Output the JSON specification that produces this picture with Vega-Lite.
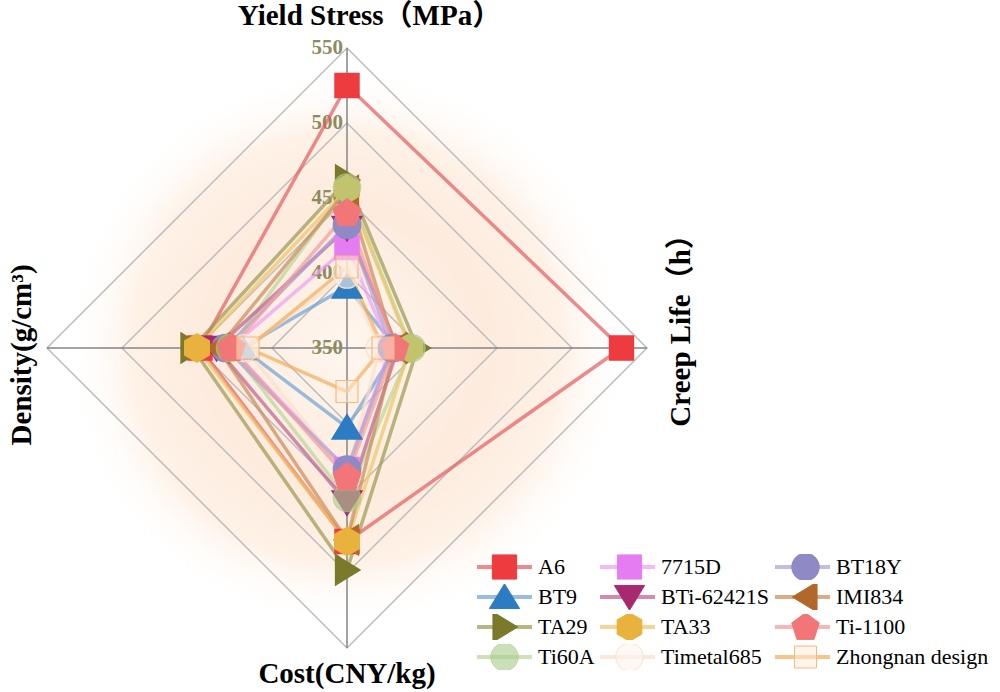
{
  "$schema": "https://vega.github.io/schema/vega-lite/v6.json",
  "width": 1000,
  "height": 692,
  "autosize": "none",
  "padding": 0,
  "background": "white",
  "config": {
    "view": {"stroke": null},
    "legend": {"labelFont": "Liberation Serif", "labelFontSize": 22, "labelColor": "#000000", "labelFontWeight": "normal", "labelLimit": 300}
  },
  "datasets": {
    "alloys": [
      {"alloy": "A6", "axis": "Yield Stress", "value": 525}, {"alloy": "A6", "axis": "Creep Life", "value": 533}, {"alloy": "A6", "axis": "Cost", "value": 479}, {"alloy": "A6", "axis": "Density", "value": 448},
      {"alloy": "BT9", "axis": "Yield Stress", "value": 391}, {"alloy": "BT9", "axis": "Creep Life", "value": 383}, {"alloy": "BT9", "axis": "Cost", "value": 403}, {"alloy": "BT9", "axis": "Density", "value": 420},
      {"alloy": "TA29", "axis": "Yield Stress", "value": 462}, {"alloy": "TA29", "axis": "Creep Life", "value": 397}, {"alloy": "TA29", "axis": "Cost", "value": 498}, {"alloy": "TA29", "axis": "Density", "value": 453},
      {"alloy": "Ti60A", "axis": "Yield Stress", "value": 457}, {"alloy": "Ti60A", "axis": "Creep Life", "value": 393}, {"alloy": "Ti60A", "axis": "Cost", "value": 450}, {"alloy": "Ti60A", "axis": "Density", "value": 428},
      {"alloy": "7715D", "axis": "Yield Stress", "value": 417}, {"alloy": "7715D", "axis": "Creep Life", "value": 379}, {"alloy": "7715D", "axis": "Cost", "value": 431}, {"alloy": "7715D", "axis": "Density", "value": 428},
      {"alloy": "BTi-62421S", "axis": "Yield Stress", "value": 430}, {"alloy": "BTi-62421S", "axis": "Creep Life", "value": 384}, {"alloy": "BTi-62421S", "axis": "Cost", "value": 453}, {"alloy": "BTi-62421S", "axis": "Density", "value": 437},
      {"alloy": "TA33", "axis": "Yield Stress", "value": 456}, {"alloy": "TA33", "axis": "Creep Life", "value": 392}, {"alloy": "TA33", "axis": "Cost", "value": 479}, {"alloy": "TA33", "axis": "Density", "value": 450},
      {"alloy": "Timetal685", "axis": "Yield Stress", "value": 399}, {"alloy": "Timetal685", "axis": "Creep Life", "value": 372}, {"alloy": "Timetal685", "axis": "Cost", "value": 434}, {"alloy": "Timetal685", "axis": "Density", "value": 418},
      {"alloy": "BT18Y", "axis": "Yield Stress", "value": 432}, {"alloy": "BT18Y", "axis": "Creep Life", "value": 380}, {"alloy": "BT18Y", "axis": "Cost", "value": 431}, {"alloy": "BT18Y", "axis": "Density", "value": 431},
      {"alloy": "IMI834", "axis": "Yield Stress", "value": 455}, {"alloy": "IMI834", "axis": "Creep Life", "value": 382}, {"alloy": "IMI834", "axis": "Cost", "value": 478}, {"alloy": "IMI834", "axis": "Density", "value": 436},
      {"alloy": "Ti-1100", "axis": "Yield Stress", "value": 440}, {"alloy": "Ti-1100", "axis": "Creep Life", "value": 382}, {"alloy": "Ti-1100", "axis": "Cost", "value": 436}, {"alloy": "Ti-1100", "axis": "Density", "value": 427},
      {"alloy": "Zhongnan design", "axis": "Yield Stress", "value": 404}, {"alloy": "Zhongnan design", "axis": "Creep Life", "value": 374}, {"alloy": "Zhongnan design", "axis": "Cost", "value": 379}, {"alloy": "Zhongnan design", "axis": "Density", "value": 416}
    ],
    "grid": [
      {"ring": 400, "axis": "Yield Stress"}, {"ring": 400, "axis": "Creep Life"}, {"ring": 400, "axis": "Cost"}, {"ring": 400, "axis": "Density"},
      {"ring": 450, "axis": "Yield Stress"}, {"ring": 450, "axis": "Creep Life"}, {"ring": 450, "axis": "Cost"}, {"ring": 450, "axis": "Density"},
      {"ring": 500, "axis": "Yield Stress"}, {"ring": 500, "axis": "Creep Life"}, {"ring": 500, "axis": "Cost"}, {"ring": 500, "axis": "Density"},
      {"ring": 550, "axis": "Yield Stress"}, {"ring": 550, "axis": "Creep Life"}, {"ring": 550, "axis": "Cost"}, {"ring": 550, "axis": "Density"}
    ],
    "axes": [
      {"axis": "Yield Stress", "title": "Yield Stress（MPa）"},
      {"axis": "Creep Life", "title": "Creep Life（h）"},
      {"axis": "Cost", "title": "Cost(CNY/kg)"},
      {"axis": "Density", "title": "Density(g/cm³)"}
    ],
    "ticks": [{"v": 350}, {"v": 400}, {"v": 450}, {"v": 500}, {"v": 550}]
  },
  "layer": [
    {
      "data": {"values": [{}]},
      "mark": {
        "type": "rect",
        "fill": {
          "gradient": "radial",
          "x1": 0.5, "y1": 0.5, "r1": 0,
          "x2": 0.5, "y2": 0.5, "r2": 0.5,
          "stops": [
            {"offset": 0, "color": "#FEF6EF"},
            {"offset": 0.4, "color": "#FDEBDD"},
            {"offset": 0.62, "color": "#FEF1E6"},
            {"offset": 0.82, "color": "rgba(255,255,255,0)"},
            {"offset": 1, "color": "rgba(255,255,255,0)"}
          ]
        }
      },
      "encoding": {
        "x": {"datum": -1.15, "type": "quantitative", "scale": {"domain": [-1.15667, 2.17667]}, "axis": null},
        "x2": {"datum": 1.15},
        "y": {"datum": -1.15, "type": "quantitative", "scale": {"domain": [-1.14667, 1.16]}, "axis": null},
        "y2": {"datum": 1.15}
      }
    },
    {
      "data": {"name": "grid"},
      "transform": [
        {"calculate": "indexof(['Yield Stress','Creep Life','Cost','Density'], datum.axis)", "as": "idx"},
        {"calculate": "(datum.ring-350)/200", "as": "r"},
        {"calculate": "datum.idx==1 ? datum.r : datum.idx==3 ? -datum.r : 0", "as": "px"},
        {"calculate": "datum.idx==0 ? datum.r : datum.idx==2 ? -datum.r : 0", "as": "py"}
      ],
      "mark": {"type": "line", "interpolate": "linear-closed", "stroke": "#BDBDBD", "strokeWidth": 1.5},
      "encoding": {
        "x": {"field": "px", "type": "quantitative", "scale": {"domain": [-1.15667, 2.17667]}, "axis": null},
        "y": {"field": "py", "type": "quantitative", "scale": {"domain": [-1.14667, 1.16]}, "axis": null},
        "detail": {"field": "ring", "type": "nominal"},
        "order": {"field": "idx", "type": "quantitative"}
      }
    },
    {
      "data": {"name": "axes"},
      "transform": [
        {"calculate": "indexof(['Yield Stress','Creep Life','Cost','Density'], datum.axis)", "as": "idx"},
        {"calculate": "datum.idx==1 ? 1 : datum.idx==3 ? -1 : 0", "as": "ex"},
        {"calculate": "datum.idx==0 ? 1 : datum.idx==2 ? -1 : 0", "as": "ey"}
      ],
      "mark": {"type": "rule", "stroke": "#858585", "strokeWidth": 1.5},
      "encoding": {
        "x": {"field": "ex", "type": "quantitative", "scale": {"domain": [-1.15667, 2.17667]}, "axis": null},
        "y": {"field": "ey", "type": "quantitative", "scale": {"domain": [-1.14667, 1.16]}, "axis": null},
        "x2": {"datum": 0},
        "y2": {"datum": 0}
      }
    },
    {
      "data": {"name": "ticks"},
      "transform": [{"calculate": "(datum.v-350)/200", "as": "ty"}],
      "mark": {"type": "text", "align": "right", "baseline": "middle", "dx": -4, "font": "Liberation Serif", "fontWeight": "bold", "fontSize": 21, "fill": "#8C8C5E"},
      "encoding": {
        "x": {"datum": 0, "type": "quantitative", "scale": {"domain": [-1.15667, 2.17667]}, "axis": null},
        "y": {"field": "ty", "type": "quantitative", "scale": {"domain": [-1.14667, 1.16]}, "axis": null},
        "text": {"field": "v", "type": "nominal"}
      }
    },
    {
      "data": {"name": "alloys"},
      "transform": [
        {"calculate": "indexof(['Yield Stress','Creep Life','Cost','Density'], datum.axis)", "as": "idx"},
        {"calculate": "(datum.value-350)/200", "as": "r"},
        {"calculate": "datum.idx==1 ? datum.r : datum.idx==3 ? -datum.r : 0", "as": "px"},
        {"calculate": "datum.idx==0 ? datum.r : datum.idx==2 ? -datum.r : 0", "as": "py"}
      ],
      "mark": {"type": "line", "interpolate": "linear-closed", "strokeWidth": 3.5, "opacity": 0.7},
      "encoding": {
        "x": {"field": "px", "type": "quantitative", "scale": {"domain": [-1.15667, 2.17667]}, "axis": null},
        "y": {"field": "py", "type": "quantitative", "scale": {"domain": [-1.14667, 1.16]}, "axis": null},
        "order": {"field": "idx", "type": "quantitative"},
        "color": {
          "field": "alloy", "type": "nominal",
          "sort": ["A6", "BT9", "TA29", "Ti60A", "7715D", "BTi-62421S", "TA33", "Timetal685", "BT18Y", "IMI834", "Ti-1100", "Zhongnan design"],
          "scale": {"range": ["#E65A5E", "#6EA2D5", "#9A9950", "#B8D698", "#EE9EF5", "#BD5C93", "#EFC565", "#FADFCB", "#A7A3D6", "#C98A58", "#F29A99", "#F3AD5A"]},
          "legend": {
            "title": null, "orient": "none", "legendX": 475, "legendY": 554, "columns": 3, "padding": 0,
            "rowPadding": 4, "columnPadding": 3, "clipHeight": 26,
            "symbolType": "stroke", "symbolSize": 3025, "symbolStrokeWidth": 4, "symbolOpacity": 0.7,
            "labelFont": "Liberation Serif", "labelFontSize": 22, "labelColor": "#000000", "labelOffset": 4, "labelLimit": 300
          }
        }
      }
    },
    {
      "data": {"name": "alloys"},
      "transform": [
        {"calculate": "indexof(['Yield Stress','Creep Life','Cost','Density'], datum.axis)", "as": "idx"},
        {"calculate": "(datum.value-350)/200", "as": "r"},
        {"calculate": "datum.idx==1 ? datum.r : datum.idx==3 ? -datum.r : 0", "as": "px"},
        {"calculate": "datum.idx==0 ? datum.r : datum.idx==2 ? -datum.r : 0", "as": "py"},
        {"calculate": "indexof(['A6','BT9','TA29','7715D','BTi-62421S','Timetal685','BT18Y','IMI834','TA33','Ti60A','Ti-1100','Zhongnan design'], datum.alloy)", "as": "sidx"}
      ],
      "mark": {"type": "point", "filled": true, "size": 3025, "strokeWidth": 1.2, "opacity": 1},
      "encoding": {
        "x": {"field": "px", "type": "quantitative", "scale": {"domain": [-1.15667, 2.17667]}, "axis": null},
        "y": {"field": "py", "type": "quantitative", "scale": {"domain": [-1.14667, 1.16]}, "axis": null},
        "order": {"field": "sidx", "type": "quantitative"},
        "fill": {
          "field": "alloy", "type": "nominal",
          "scale": {
            "domain": ["A6", "BT9", "TA29", "Ti60A", "7715D", "BTi-62421S", "TA33", "Timetal685", "BT18Y", "IMI834", "Ti-1100", "Zhongnan design"],
            "range": ["#EE3B3F", "#2B7CC3", "#7A7A2A", "rgba(170,205,140,0.62)", "#E67CF2", "#A8296F", "#E9B23C", "rgba(255,244,236,0.6)", "#8F89C6", "#B3682B", "#F27677", "rgba(255,236,215,0.5)"]
          },
          "legend": {
            "title": null, "orient": "none", "legendX": 475, "legendY": 554, "columns": 3, "padding": 0,
            "rowPadding": 4, "columnPadding": 3, "clipHeight": 26,
            "symbolSize": 3025, "symbolStrokeWidth": 1, "symbolOffset": 1.5, "symbolOpacity": 1,
            "labelFont": "Liberation Serif", "labelFontSize": 22, "labelColor": "#000000", "labelOffset": 7, "labelOpacity": 0, "labelLimit": 300
          }
        },
        "stroke": {
          "field": "alloy", "type": "nominal",
          "scale": {
            "domain": ["A6", "BT9", "TA29", "Ti60A", "7715D", "BTi-62421S", "TA33", "Timetal685", "BT18Y", "IMI834", "Ti-1100", "Zhongnan design"],
            "range": ["#EE3B3F", "#2B7CC3", "#7A7A2A", "rgba(170,205,140,0.6)", "#E67CF2", "#A8296F", "#E9B23C", "#FBDDC8", "#8F89C6", "#B3682B", "#F27677", "#F5BA7C"]
          },
          "legend": {
            "title": null, "orient": "none", "legendX": 475, "legendY": 554, "columns": 3, "padding": 0,
            "rowPadding": 4, "columnPadding": 3, "clipHeight": 26,
            "symbolSize": 3025, "symbolStrokeWidth": 1, "symbolOffset": 1.5, "symbolOpacity": 1,
            "labelFont": "Liberation Serif", "labelFontSize": 22, "labelColor": "#000000", "labelOffset": 7, "labelOpacity": 0, "labelLimit": 300
          }
        },
        "shape": {
          "field": "alloy", "type": "nominal",
          "scale": {
            "domain": ["A6", "BT9", "TA29", "Ti60A", "7715D", "BTi-62421S", "TA33", "Timetal685", "BT18Y", "IMI834", "Ti-1100", "Zhongnan design"],
            "range": [
              "M-0.44,-0.44H0.44V0.44H-0.44Z",
              "M0,-0.48L0.55,0.42L-0.55,0.42Z",
              "M-0.42,-0.55L0.48,0L-0.42,0.55Z",
              "M-0.5,0A0.5,0.5,0,1,0,0.5,0A0.5,0.5,0,1,0,-0.5,0Z",
              "M-0.44,-0.44H0.44V0.44H-0.44Z",
              "M-0.55,-0.42L0.55,-0.42L0,0.48Z",
              "M0,-0.52L0.45,-0.26L0.45,0.26L0,0.52L-0.45,0.26L-0.45,-0.26Z",
              "M-0.5,0A0.5,0.5,0,1,0,0.5,0A0.5,0.5,0,1,0,-0.5,0Z",
              "M-0.5,0A0.5,0.5,0,1,0,0.5,0A0.5,0.5,0,1,0,-0.5,0Z",
              "M0.42,-0.55L-0.48,0L0.42,0.55Z",
              "M0,-0.52L0.5,-0.15L0.31,0.45L-0.31,0.45L-0.5,-0.15Z",
              "M-0.4,-0.4H0.4V0.4H-0.4Z"
            ]
          },
          "legend": {
            "title": null, "orient": "none", "legendX": 475, "legendY": 554, "columns": 3, "padding": 0,
            "rowPadding": 4, "columnPadding": 3, "clipHeight": 26,
            "symbolSize": 3025, "symbolStrokeWidth": 1, "symbolOffset": 1.5, "symbolOpacity": 1,
            "labelFont": "Liberation Serif", "labelFontSize": 22, "labelColor": "#000000", "labelOffset": 7, "labelOpacity": 0, "labelLimit": 300
          }
        }
      }
    },
    {
      "data": {"name": "axes"},
      "transform": [
        {"calculate": "indexof(['Yield Stress','Creep Life','Cost','Density'], datum.axis)", "as": "idx"},
        {"filter": "datum.idx==0 || datum.idx==2"},
        {"calculate": "datum.idx==0 ? 0.075 : 0", "as": "tx"},
        {"calculate": "datum.idx==0 ? 1.107 : -1.087", "as": "ty"}
      ],
      "mark": {"type": "text", "align": "center", "baseline": "middle", "font": "Liberation Serif, Noto Sans CJK SC", "fontWeight": "bold", "fontSize": 29, "fill": "#000000"},
      "encoding": {
        "x": {"field": "tx", "type": "quantitative", "scale": {"domain": [-1.15667, 2.17667]}, "axis": null},
        "y": {"field": "ty", "type": "quantitative", "scale": {"domain": [-1.14667, 1.16]}, "axis": null},
        "text": {"field": "title", "type": "nominal"}
      }
    },
    {
      "data": {"name": "axes"},
      "transform": [
        {"calculate": "indexof(['Yield Stress','Creep Life','Cost','Density'], datum.axis)", "as": "idx"},
        {"filter": "datum.idx==1 || datum.idx==3"},
        {"calculate": "datum.idx==1 ? 1.113 : -1.083", "as": "tx"},
        {"calculate": "datum.idx==1 ? 0.082 : -0.023", "as": "ty"}
      ],
      "mark": {"type": "text", "align": "center", "baseline": "middle", "angle": 270, "font": "Liberation Serif, Noto Sans CJK SC", "fontWeight": "bold", "fontSize": 29, "fill": "#000000"},
      "encoding": {
        "x": {"field": "tx", "type": "quantitative", "scale": {"domain": [-1.15667, 2.17667]}, "axis": null},
        "y": {"field": "ty", "type": "quantitative", "scale": {"domain": [-1.14667, 1.16]}, "axis": null},
        "text": {"field": "title", "type": "nominal"}
      }
    }
  ]
}
